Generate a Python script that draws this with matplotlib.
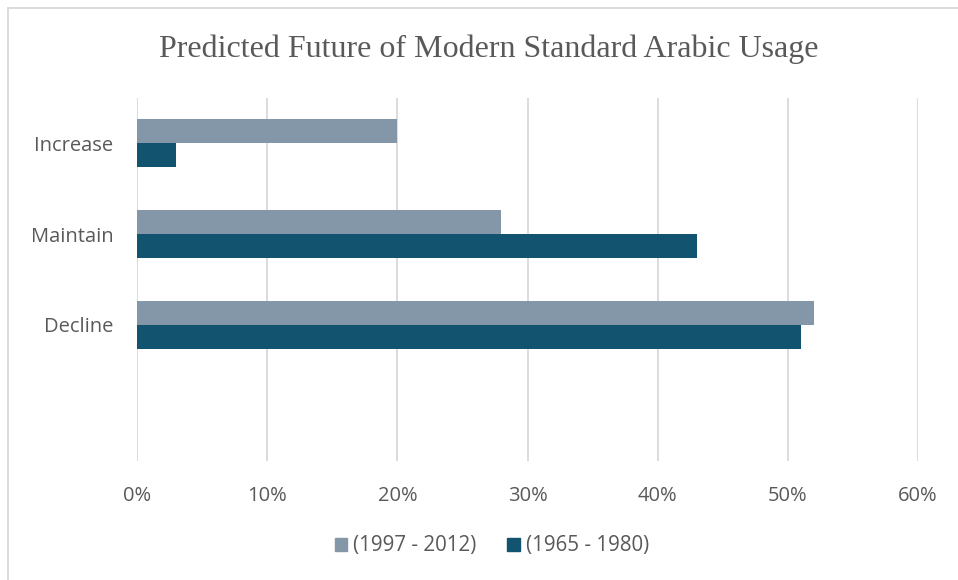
import numpy as np
import matplotlib
matplotlib.use("Agg")
from matplotlib import pyplot as plt
from matplotlib.lines import Line2D
from matplotlib.patches import Patch
from matplotlib.ticker import FuncFormatter

# ------------------
# data
# ------------------
categories = ["Increase", "Maintain", "Decline", ""]
gen_1997 = [20, 28, 52, 0]   # (1997 - 2012)
gen_1965 = [3, 43, 51, 0]    # (1965 - 1980)
series_labels = ["(1997 - 2012)", "(1965 - 1980)"]
x_ticks = [0, 10, 20, 30, 40, 50, 60]

c_light = "#8497A9"
c_dark = "#12546F"
txt = "#595959"
grid_c = "#D9D9D9"

plt.rcParams["font.family"] = ["Open Sans", "DejaVu Sans"]

fig = plt.figure(figsize=(9.58, 5.8), dpi=100)
ax = fig.add_axes([137/958, 1-461/580, (918-137)/958, (461-98)/580])

y = np.arange(len(categories))
h = 0.265
ax.barh(y - h/2, gen_1997, height=h, color=c_light, label=series_labels[0])
ax.barh(y + h/2, gen_1965, height=h, color=c_dark, label=series_labels[1])

ax.set_xlim(0, 60)
ax.set_ylim(len(categories) - 0.5, -0.5)
ax.set_xticks(x_ticks)
ax.xaxis.set_major_formatter(FuncFormatter(lambda v, p: "{:d}%".format(int(v))))
ax.set_yticks(y)
ax.set_yticklabels(categories)
ax.tick_params(axis="both", length=0, labelsize=14.5, colors=txt)
ax.tick_params(axis="x", pad=18)
ax.tick_params(axis="y", pad=17)
ax.grid(axis="x", color=grid_c, linewidth=1.3)
ax.set_axisbelow(True)
for s in ax.spines.values():
    s.set_visible(False)

fig.text(489/958, 1-49/580, "Predicted Future of Modern Standard Arabic Usage",
         ha="center", va="center", fontsize=23, color=txt,
         family=["Liberation Serif", "DejaVu Serif"])

handles = [Patch(color=c_light), Patch(color=c_dark)]
fig.legend(handles, series_labels, loc="center", bbox_to_anchor=(492/958, 1-546/580),
           ncol=2, frameon=False, fontsize=14.8, labelcolor=txt,
           handlelength=0.6, handleheight=0.6, handletextpad=0.3, columnspacing=1.5)

# outer chart border (only top and left show)
fig.add_artist(Line2D([8/958, 1], [1-8/580, 1-8/580], color=grid_c, lw=1.3))
fig.add_artist(Line2D([8/958, 8/958], [0, 1-8/580], color=grid_c, lw=1.3))

fig.savefig("out.png", dpi=100)
